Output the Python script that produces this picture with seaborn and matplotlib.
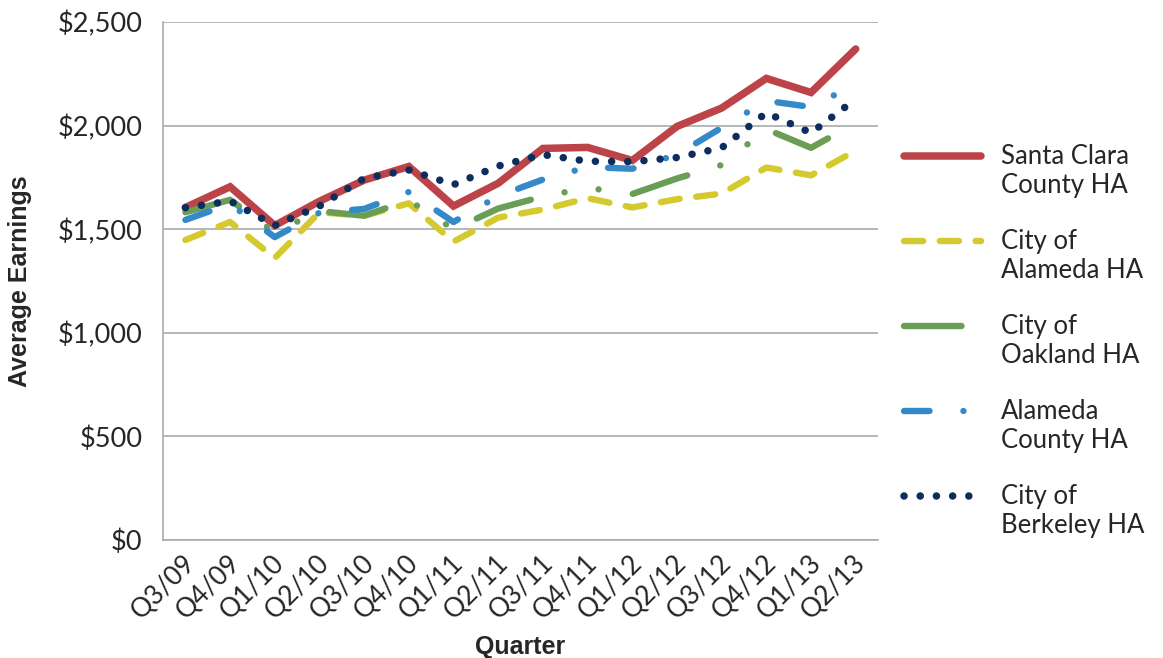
import numpy as np
import pandas as pd
import matplotlib
matplotlib.use('Agg')
import matplotlib.pyplot as plt
import matplotlib.transforms as mtransforms
import seaborn as sns
from matplotlib.ticker import FuncFormatter, FixedLocator
from matplotlib.legend_handler import HandlerLine2D

# quarters on the x axis
quarters = ['Q3/09', 'Q4/09', 'Q1/10', 'Q2/10', 'Q3/10', 'Q4/10', 'Q1/11', 'Q2/11',
            'Q3/11', 'Q4/11', 'Q1/12', 'Q2/12', 'Q3/12', 'Q4/12', 'Q1/13', 'Q2/13']

# average earnings per housing authority
santa_clara = [1605, 1705, 1518, 1635, 1737, 1803, 1612, 1722, 1890, 1895, 1832, 1996, 2085, 2228, 2160, 2370]
alameda_city = [1448, 1535, 1361, 1582, 1565, 1625, 1440, 1556, 1595, 1650, 1605, 1645, 1672, 1798, 1760, 1880]
oakland = [1582, 1642, 1485, 1588, 1565, 1640, 1500, 1600, 1658, 1700, 1670, 1745, 1810, 1983, 1893, 2013]
alameda_county = [1545, 1622, 1462, 1580, 1598, 1680, 1535, 1660, 1740, 1800, 1792, 1860, 1990, 2120, 2090, 2200]
berkeley = [1604, 1636, 1518, 1612, 1745, 1786, 1715, 1805, 1860, 1828, 1826, 1846, 1893, 2062, 1965, 2128]

series = ['Santa Clara\nCounty HA', 'City of\nAlameda HA', 'City of\nOakland HA',
          'Alameda\nCounty HA', 'City of\nBerkeley HA']
values = [santa_clara, alameda_city, oakland, alameda_county, berkeley]
colors = ['#BC4348', '#D4CA2F', '#6A9D56', '#3489C9', '#0D2D5F']
widths = [5.4, 4.6, 4.6, 4.6, 5.4]
styles = ['-', (0, (3.0, 2.6)), (0, (9, 5.4, 0.01, 5.4, 0.01, 5.4)),
          (0, (4, 5.3, 0.01, 5.3)), (0, (0.01, 2.15))]

x = np.arange(len(quarters))

sns.set_style('white')
plt.rcParams['font.family'] = ['Lato', 'DejaVu Sans']

fig = plt.figure(figsize=(11.63, 6.58), dpi=100)
ax = fig.add_axes([0.1402, 0.1793, 0.6148, 0.7872])

handles = []
for name, vals, col, lw, ls in zip(series, values, colors, widths, styles):
    df = pd.DataFrame({'x': x, 'y': vals})
    sns.lineplot(data=df, x='x', y='y', ax=ax, color=col, linewidth=lw, sort=False, legend=False)
    line = ax.get_lines()[-1]
    line.set_linestyle(ls)
    line.set_dash_capstyle('round')
    line.set_solid_capstyle('round')
    line.set_solid_joinstyle('miter')
    handles.append(line)

if ax.get_legend() is not None:
    ax.get_legend().remove()

ax.set_xlim(-0.5, len(quarters) - 0.5)
ax.set_ylim(0, 2500)
ax.set_yticks(np.arange(0, 2501, 500))
ax.yaxis.set_major_formatter(FuncFormatter(lambda v, p: f'${v:,.0f}'))
ax.grid(axis='y', color='#A7AAB0', linewidth=1.2)
ax.set_axisbelow(True)

ax.set_xticks(x)
ax.set_xticklabels(quarters, rotation=45, ha='right', va='center', rotation_mode='anchor')
ax.xaxis.set_minor_locator(FixedLocator(np.arange(-0.5, len(quarters), 1)))
ax.tick_params(axis='x', which='major', length=0, pad=14, labelsize=19)
ax.tick_params(axis='x', which='minor', length=7, width=1.2, color='#A7AAB0', direction='out')
ax.tick_params(axis='y', which='major', length=7, width=1.2, color='#A7AAB0', labelsize=19.5, pad=8)

# nudge the rotated quarter labels a little to the right
shift = mtransforms.ScaledTranslation(6 / 100, 0, fig.dpi_scale_trans)
for lab in ax.get_xticklabels():
    lab.set_transform(lab.get_transform() + shift)

for s in ['top', 'right']:
    ax.spines[s].set_visible(False)
for s in ['left', 'bottom']:
    ax.spines[s].set_color('#A7AAB0')
    ax.spines[s].set_linewidth(1.2)

ax.set_xlabel('Quarter', fontsize=18, fontweight='bold',
              family=['Liberation Sans', 'DejaVu Sans'], labelpad=8)
ax.set_ylabel('Average Earnings', fontsize=18, fontweight='bold',
              family=['Liberation Sans', 'DejaVu Sans'], labelpad=18)


class TopLineHandler(HandlerLine2D):
    # put the legend line next to the first text line
    def create_artists(self, legend, orig_handle, xdescent, ydescent, width, height, fontsize, trans):
        arts = super().create_artists(legend, orig_handle, xdescent, ydescent, width, height, fontsize, trans)
        for a in arts:
            a.set_ydata(np.asarray(a.get_ydata()) + 0.62 * fontsize)
        return arts


leg = fig.legend(handles=handles, labels=series, loc='upper left',
                 bbox_to_anchor=(0.7575, 0.816), frameon=False, fontsize=18.5,
                 handlelength=3.0, handletextpad=0.78, labelspacing=1.2,
                 handler_map={h: TopLineHandler() for h in handles})

fig.savefig('out.png', dpi=100)
